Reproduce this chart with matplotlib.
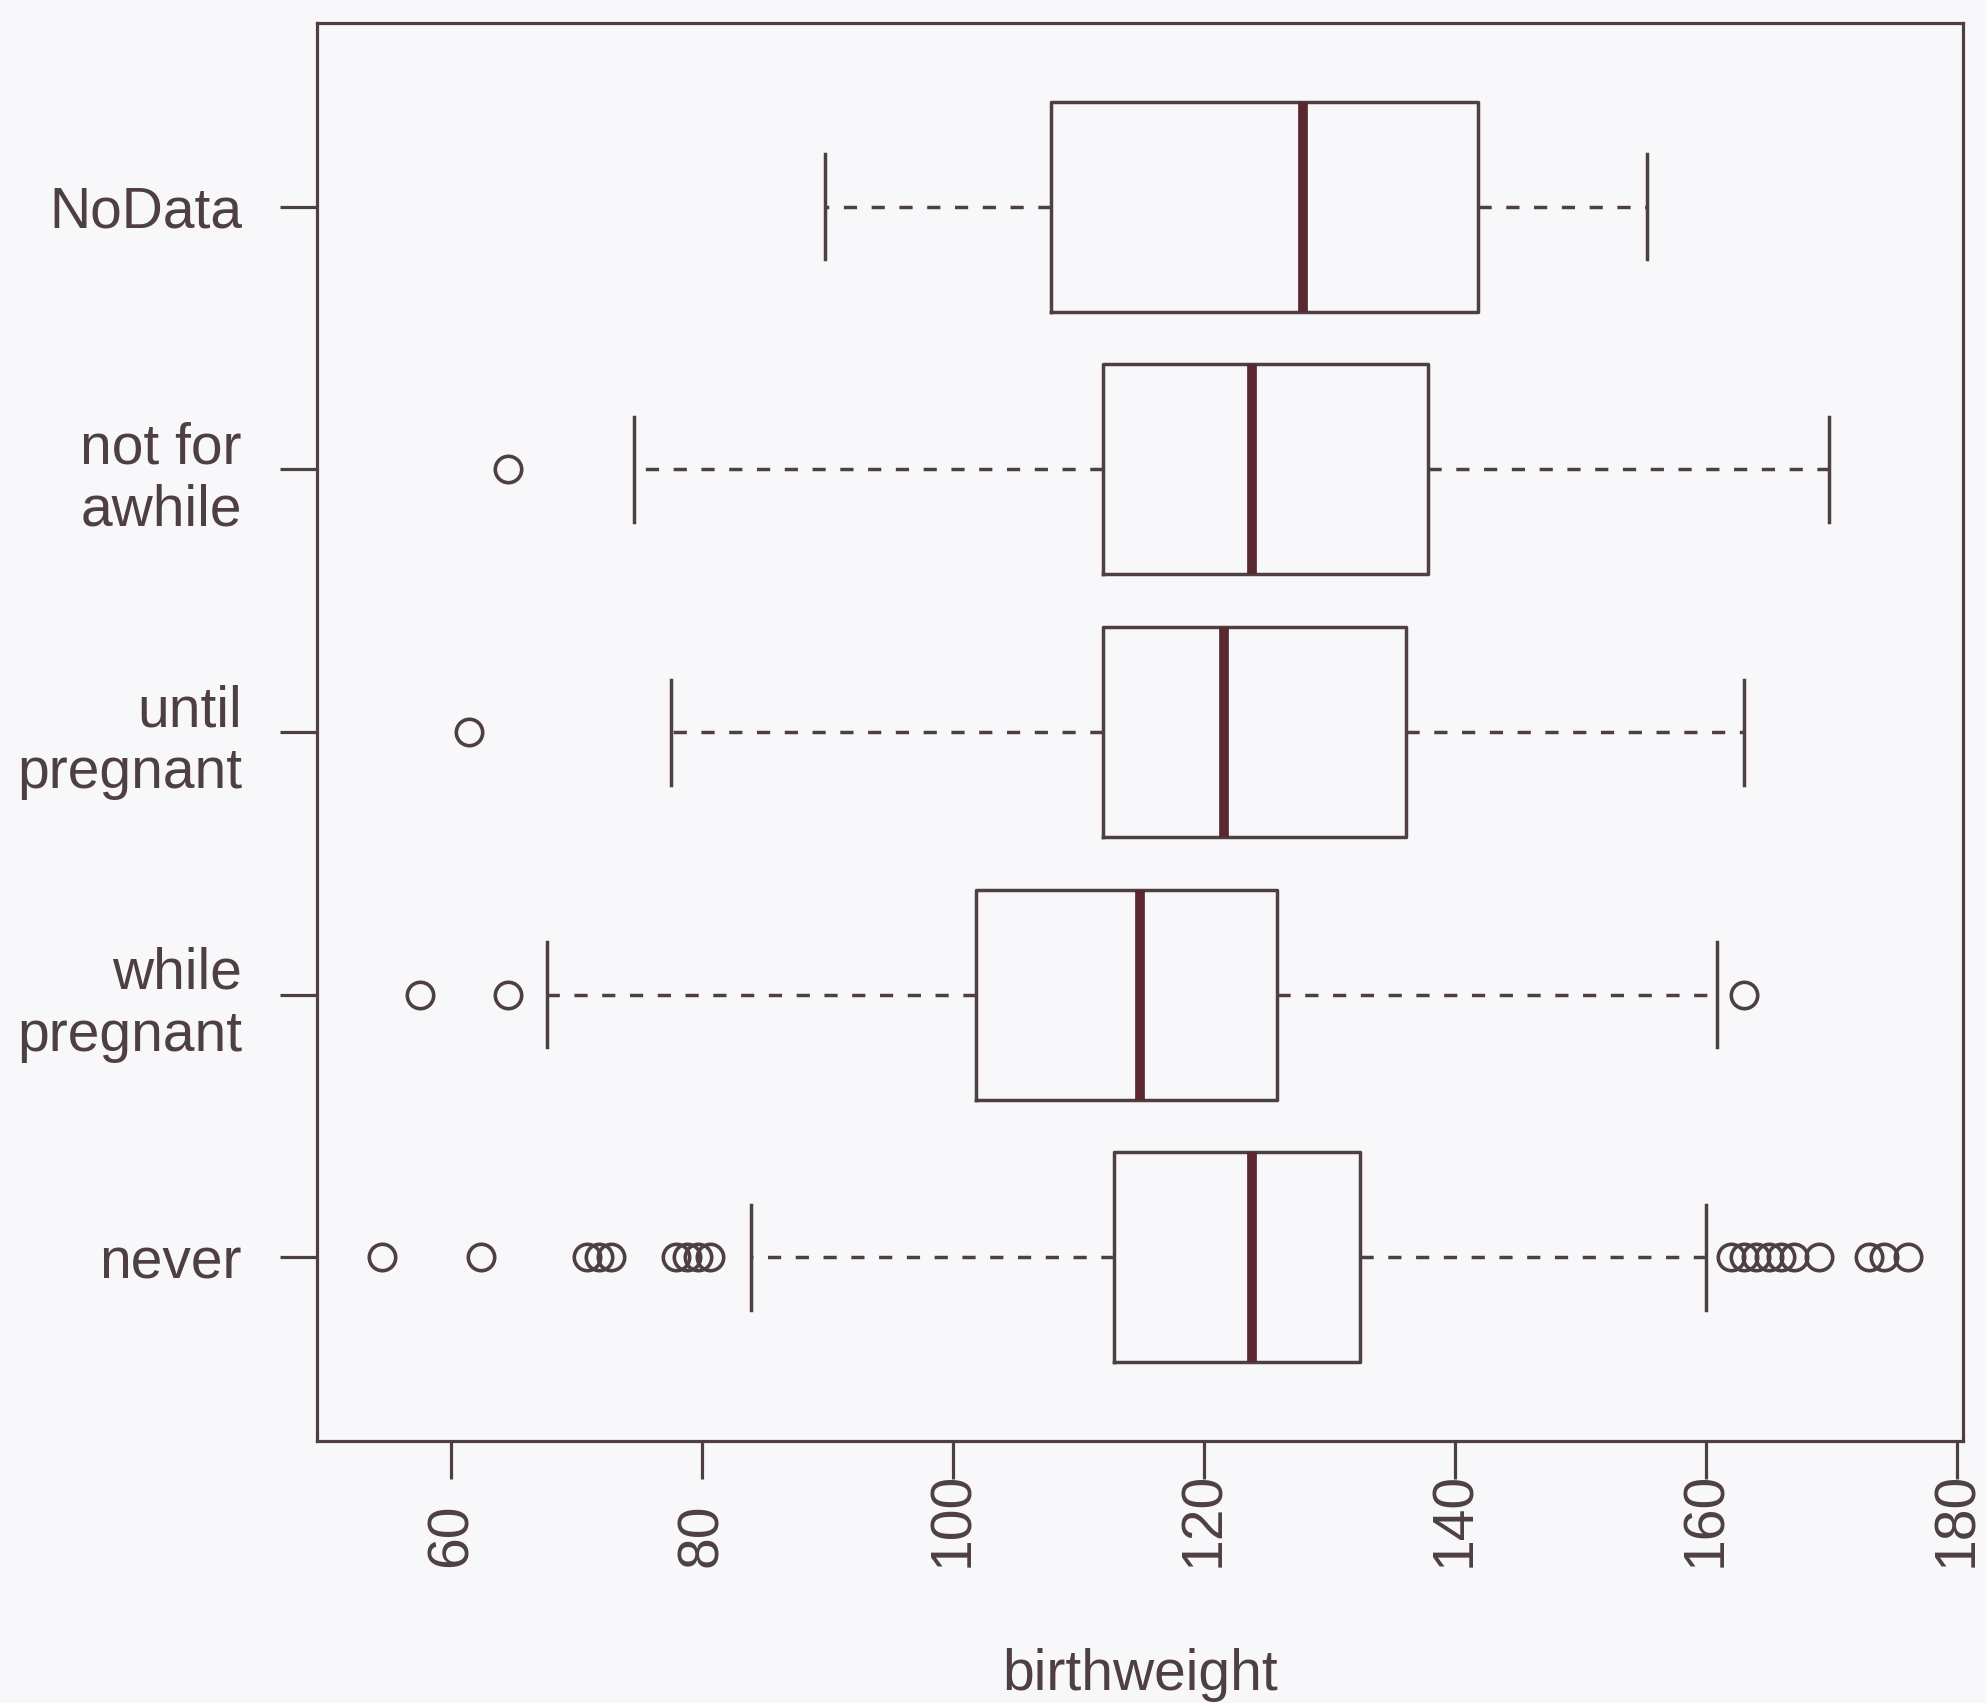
import matplotlib.pyplot as plt

# groups from bottom (position 1) to top (position 5)
groups = ["never", "while\npregnant", "until\npregnant", "not for\nawhile", "NoData"]
q1 = [112.8, 101.8, 111.9, 111.9, 107.8]
med = [123.8, 114.9, 121.6, 123.8, 127.9]
q3 = [132.4, 125.8, 136.1, 137.8, 141.8]
whislo = [83.9, 67.6, 77.5, 74.6, 89.8]
whishi = [160.0, 160.9, 163.0, 169.8, 155.3]
fliers = [
    [54.5, 62.4, 70.8, 71.8, 72.7, 77.9, 78.8, 79.7, 80.6,
     162.0, 163.0, 164.0, 165.0, 166.0, 167.0, 169.0, 173.0, 174.2, 176.1],
    [57.5, 64.5, 163.0],
    [61.4],
    [64.5],
    [],
]
xticks = [60, 80, 100, 120, 140, 160, 180]

ink = "#4e3f45"
med_col = "#5a2830"
bg = "#f8f8fa"

plt.rcParams["font.family"] = ["Liberation Sans", "DejaVu Sans"]

fig = plt.figure(figsize=(19.86, 17.03), dpi=100, facecolor=bg)
ax = fig.add_axes([0.1596, 0.1538, 0.8290, 0.8327], facecolor=bg)

stats = []
for i in range(len(groups)):
    stats.append(dict(label=groups[i], q1=q1[i], med=med[i], q3=q3[i],
                      whislo=whislo[i], whishi=whishi[i], fliers=fliers[i]))

lw = 2.5
ax.bxp(stats, positions=range(1, len(groups) + 1), orientation="horizontal",
       widths=0.8, capwidths=0.4,
       boxprops=dict(color=ink, linewidth=lw),
       medianprops=dict(color=med_col, linewidth=7, solid_capstyle="butt"),
       whiskerprops=dict(color=ink, linewidth=lw, linestyle=(0, (3.8, 4.2))),
       capprops=dict(color=ink, linewidth=lw),
       flierprops=dict(marker="o", markerfacecolor="none", markeredgecolor=ink,
                       markersize=19, markeredgewidth=2.6))

ax.set_xlim(49.3, 180.5)
ax.set_ylim(0.3, 5.7)
for s in ax.spines.values():
    s.set_color(ink)
    s.set_linewidth(2.3)

ax.set_yticks(range(1, len(groups) + 1))
ax.set_yticklabels(groups, fontsize=41, color=ink)
ax.tick_params(axis="y", length=27, width=2.3, color=ink, pad=27)

ax.set_xticks(xticks)
ax.set_xticklabels([str(t) for t in xticks], fontsize=41, color=ink,
                   rotation=90, va="bottom")
ax.tick_params(axis="x", length=27, width=2.3, color=ink, pad=64)

fig.text(0.574, 0.0164, "birthweight", fontsize=41, color=ink,
         ha="center", va="center")

fig.savefig("out.png", dpi=100, facecolor=bg)
